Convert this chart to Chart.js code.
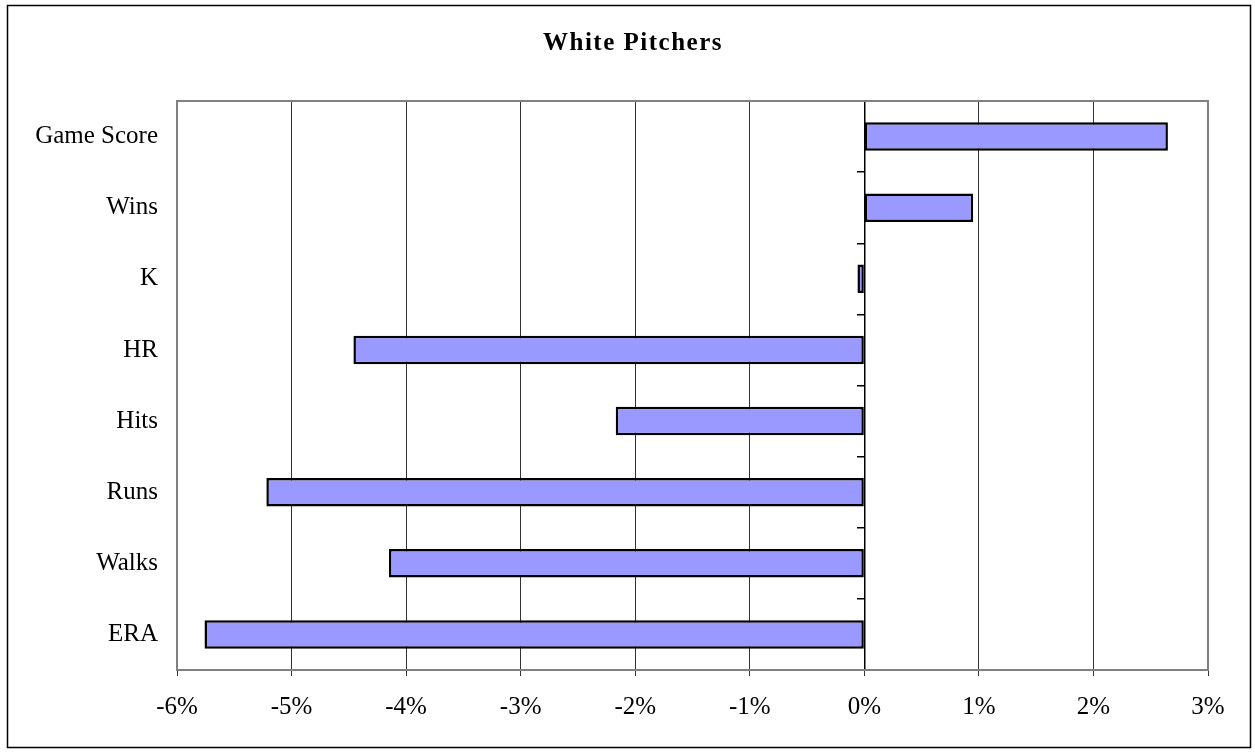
<!DOCTYPE html>
<html>
<head>
<meta charset="utf-8">
<script src="https://cdn.jsdelivr.net/npm/chart.js@4/dist/chart.umd.min.js"></script>
<style>
  body { margin: 0; background: #fff; }
  #wrap { width: 1255px; height: 753px; }
</style>
</head>
<body>
<div id="wrap"><canvas id="chart" width="1255" height="753"></canvas></div>
<script>
// categories, top to bottom as in the original
const categories = ["Game Score", "Wins", "K", "HR", "Hits", "Runs", "Walks", "ERA"];
// percent change
const changes = [2.65, 0.95, -0.06, -4.46, -2.17, -5.22, -4.15, -5.76];
const xTicks = [-6, -5, -4, -3, -2, -1, 0, 1, 2, 3];
const chartTitle = "White Pitchers";

const serif = "'Liberation Serif', 'Times New Roman', serif";

// outer frame, grey plot-area box and the spaced-out bold title
const frame = {
  id: "frame",
  beforeDraw(chart) {
    const ctx = chart.ctx;
    ctx.save();
    ctx.fillStyle = "#fff";
    ctx.fillRect(0, 0, chart.width, chart.height);
    ctx.strokeStyle = "#000";
    ctx.lineWidth = 1.5;
    ctx.strokeRect(7.5, 5.5, 1243, 742);
    ctx.restore();
  },
  beforeDatasetsDraw(chart) {
    const a = chart.chartArea;
    const ctx = chart.ctx;
    ctx.save();
    ctx.strokeStyle = "#808080";
    ctx.lineWidth = 2;
    ctx.strokeRect(a.left, a.top, a.right - a.left, a.bottom - a.top);
    ctx.restore();
  },
  afterDraw(chart) {
    const ctx = chart.ctx;
    ctx.save();
    ctx.font = "bold 25px " + serif;
    if ("letterSpacing" in ctx) ctx.letterSpacing = "1.5px";
    ctx.fillStyle = "#000";
    ctx.textAlign = "center";
    ctx.textBaseline = "alphabetic";
    ctx.fillText(chartTitle, 633, 50);
    ctx.restore();
  }
};

new Chart(document.getElementById("chart"), {
  type: "bar",
  data: {
    labels: categories,
    datasets: [{
      label: chartTitle,
      data: changes,
      backgroundColor: "#9999FF",
      borderColor: "#000",
      borderWidth: 2.5,
      borderSkipped: false,
      barPercentage: 0.4,
      categoryPercentage: 1,
      yAxisID: "y"
    }]
  },
  options: {
    indexAxis: "y",
    responsive: false,
    animation: false,
    layout: { padding: { left: 0, right: 47, top: 101, bottom: 0 } },
    plugins: {
      legend: { display: false },
      tooltip: { enabled: false },
      title: { display: false }
    },
    scales: {
      x: {
        min: -6,
        max: 3,
        afterBuildTicks(scale) {
          scale.ticks = xTicks.map((v) => ({ value: v }));
        },
        afterFit(scale) { scale.height = 83; },
        ticks: {
          color: "#000",
          font: { family: serif, size: 25 },
          padding: 16,
          maxRotation: 0,
          callback: (v) => Math.round(v) + "%"
        },
        grid: { color: "#333", lineWidth: 1, tickLength: 6, tickColor: "#333" },
        border: { color: "#404040", width: 2 }
      },
      y: {
        type: "category",
        position: "left",
        afterFit(scale) { scale.width = 177; },
        ticks: {
          color: "#000",
          font: { family: serif, size: 25 },
          padding: 19
        },
        grid: { display: false, drawTicks: false },
        border: { display: true, color: "#808080", width: 2 }
      },
      // vertical axis line crossing at 0% with outward tick marks
      y0: {
        type: "category",
        labels: categories,
        position: { x: 0 },
        offset: true,
        ticks: { display: false },
        grid: { drawOnChartArea: false, drawTicks: true, offset: true, tickLength: 7, tickColor: "#000", lineWidth: 1.5 },
        border: { display: true, color: "#000", width: 1.5 }
      }
    }
  },
  plugins: [frame]
});
</script>
</body>
</html>
